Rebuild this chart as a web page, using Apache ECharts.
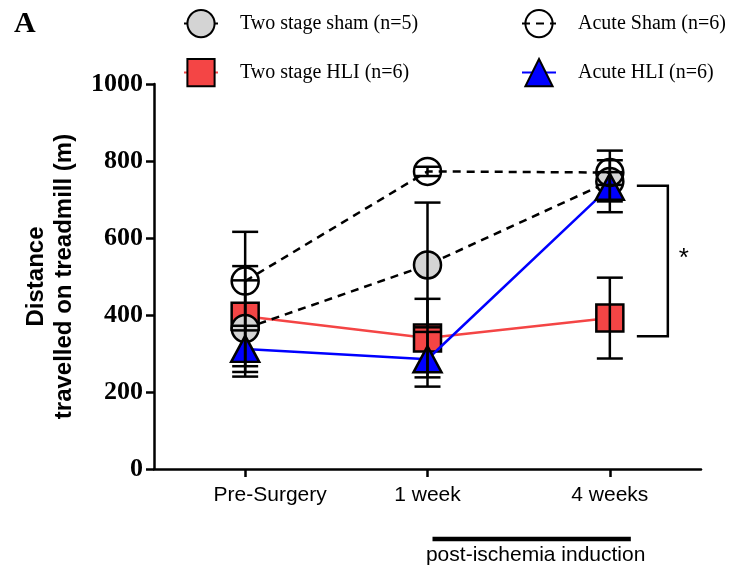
<!DOCTYPE html>
<html>
<head>
<meta charset="utf-8">
<script src="https://cdn.jsdelivr.net/npm/echarts@6/dist/echarts.min.js"></script>
<style>
  html, body { margin: 0; padding: 0; background: #fff; }
  #chart { width: 734px; height: 573px; }
</style>
</head>
<body>
<div id="chart"></div>
<script>
// Treadmill distance (m), mean and SEM per time point
const categories = ['Pre-Surgery', '1 week', '4 weeks'];
const seriesNames = ['Two stage sham (n=5)', 'Acute Sham (n=6)', 'Two stage HLI (n=6)', 'Acute HLI (n=6)'];

const twoStageSham = [365, 530, 747];
const twoStageShamErr = [125, 162, 80];
const acuteSham = [488, 773, 770];
const acuteShamErr = [128, 12, 32];
const twoStageHLI = [397, 340, 392];
const twoStageHLIErr = [130, 102, 105];
const acuteHLI = [312, 285, 733];
const acuteHLIErr = [60, 71, 38];

const yTicks = [0, 200, 400, 600, 800, 1000];
// Significance bracket spans these values at the last time point
const bracketRange = [345, 736];

const BLACK = '#000';
const LW = 2.5;

function errorBars(values, errs, z) {
  return {
    type: 'custom',
    z: z,
    silent: true,
    encode: { x: 0, y: [1, 2] },
    data: values.map((v, i) => [i, v - errs[i], v + errs[i]]),
    renderItem: function (params, api) {
      const i = api.value(0);
      const top = api.coord([i, api.value(2)]);
      const bot = api.coord([i, api.value(1)]);
      const hw = 13;
      const st = { stroke: BLACK, lineWidth: LW };
      return {
        type: 'group',
        children: [
          { type: 'line', shape: { x1: top[0], y1: top[1], x2: bot[0], y2: bot[1] }, style: st },
          { type: 'line', shape: { x1: top[0] - hw, y1: top[1], x2: top[0] + hw, y2: top[1] }, style: st },
          { type: 'line', shape: { x1: bot[0] - hw, y1: bot[1], x2: bot[0] + hw, y2: bot[1] }, style: st }
        ]
      };
    }
  };
}

function legendAt(name, left, top) {
  return {
    data: [name],
    left: left,
    top: top,
    padding: 0,
    itemWidth: 34,
    itemHeight: 34,
    selectedMode: false,
    textStyle: {
      fontFamily: 'Liberation Serif',
      fontSize: 20,
      color: BLACK,
      padding: [0, 0, 0, 17]
    }
  };
}

const chart = echarts.init(document.getElementById('chart'), null, { renderer: 'canvas' });

const option = {
  animation: false,
  backgroundColor: '#fff',
  grid: { left: 154, right: 33, top: 84, bottom: 104, containLabel: false, outerBoundsMode: 'none' },
  legend: [
    legendAt(seriesNames[0], 183, 9),
    legendAt(seriesNames[1], 521, 9),
    legendAt(seriesNames[2], 183, 58),
    legendAt(seriesNames[3], 521, 58)
  ],
  xAxis: {
    type: 'category',
    data: categories,
    boundaryGap: true,
    axisLine: { show: true, lineStyle: { color: BLACK, width: LW } },
    axisTick: { show: true, alignWithLabel: true, length: 8, lineStyle: { color: BLACK, width: LW } },
    splitLine: { show: false },
    axisLabel: {
      interval: 0,
      hideOverlap: false,
      color: BLACK,
      fontFamily: 'Liberation Sans',
      fontSize: 21,
      margin: 16,
      formatter: function (v, i) { return i === 0 ? '{pre|' + v + '}' : v; },
      rich: { pre: { fontFamily: 'Liberation Sans', fontSize: 21, color: BLACK, padding: [0, 0, 0, 50] } }
    }
  },
  yAxis: {
    type: 'value',
    min: yTicks[0],
    max: yTicks[yTicks.length - 1],
    interval: yTicks[1] - yTicks[0],
    splitLine: { show: false },
    axisLine: { show: true, lineStyle: { color: BLACK, width: LW } },
    axisTick: { show: true, length: 8, lineStyle: { color: BLACK, width: LW } },
    axisLabel: {
      color: BLACK, fontFamily: 'Liberation Serif', fontWeight: 'bold', fontSize: 26, margin: 11,
      formatter: function (v) { return String(v); }
    },
    name: 'Distance\ntravelled on treadmill (m)',
    nameLocation: 'middle',
    nameRotate: 90,
    nameGap: 76,
    nameTextStyle: { color: BLACK, fontFamily: 'Liberation Sans', fontWeight: 'bold', fontSize: 24, lineHeight: 28 }
  },
  series: [
    {
      name: seriesNames[2], type: 'line', data: twoStageHLI, z: 3,
      symbol: 'rect', symbolSize: 27,
      itemStyle: { color: '#f44545', borderColor: BLACK, borderWidth: LW },
      lineStyle: { color: '#f44545', width: 2.5 },
      emphasis: { disabled: true }
    },
    {
      name: seriesNames[0], type: 'line', data: twoStageSham, z: 4,
      symbol: 'circle', symbolSize: 27,
      itemStyle: { color: '#d4d4d4', borderColor: BLACK, borderWidth: LW },
      lineStyle: { color: BLACK, width: 2.5, type: [8, 6] },
      emphasis: { disabled: true }
    },
    {
      name: seriesNames[3], type: 'line', data: acuteHLI, z: 5,
      symbol: 'triangle', symbolSize: [28, 26],
      itemStyle: { color: '#0000ff', borderColor: BLACK, borderWidth: LW },
      lineStyle: { color: '#0000ff', width: 2.5 },
      emphasis: { disabled: true }
    },
    {
      name: seriesNames[1], type: 'line', data: acuteSham, z: 6,
      symbol: 'circle', symbolSize: 27,
      itemStyle: { color: 'rgba(255,255,255,0)', borderColor: BLACK, borderWidth: LW },
      lineStyle: { color: BLACK, width: 2.5, type: [8, 6] },
      emphasis: { disabled: true }
    },
    errorBars(twoStageHLI, twoStageHLIErr, 7),
    errorBars(twoStageSham, twoStageShamErr, 7),
    errorBars(acuteHLI, acuteHLIErr, 7),
    errorBars(acuteSham, acuteShamErr, 7)
  ]
};

chart.setOption(option);

// Annotations positioned from the axes' own scales
const px = (i, v) => chart.convertToPixel({ xAxisIndex: 0, yAxisIndex: 0 }, [i, v]);
const last = categories.length - 1;
const bTop = px(last, bracketRange[1]);
const bBot = px(last, bracketRange[0]);
const bx1 = bTop[0] + 27, bx2 = bTop[0] + 58;
const wk1 = px(1, 0);
const wk4 = px(last, 0);
const barY = wk1[1] + 70;

chart.setOption({
  graphic: [
    { type: 'text', left: 14, top: 9, style: { text: 'A', fontFamily: 'Liberation Serif', fontWeight: 'bold', fontSize: 30, fill: BLACK } },
    {
      type: 'polyline',
      shape: { points: [[bx1, bTop[1]], [bx2, bTop[1]], [bx2, bBot[1]], [bx1, bBot[1]]] },
      style: { stroke: BLACK, lineWidth: LW, fill: null }
    },
    {
      type: 'text', x: bx2 + 16, y: (bTop[1] + bBot[1]) / 2 - 2,
      style: { text: '*', fontFamily: 'Liberation Sans', fontSize: 26, fill: BLACK, align: 'center', verticalAlign: 'middle' }
    },
    {
      type: 'line',
      shape: { x1: wk1[0] + 5, y1: barY, x2: wk4[0] + 21, y2: barY },
      style: { stroke: BLACK, lineWidth: 4.5 }
    },
    {
      type: 'text', x: (wk1[0] + wk4[0] + 26) / 2 + 4, y: barY + 16,
      style: { text: 'post-ischemia induction', fontFamily: 'Liberation Sans', fontSize: 21, fill: BLACK, align: 'center', verticalAlign: 'middle' }
    }
  ]
});
</script>
</body>
</html>
